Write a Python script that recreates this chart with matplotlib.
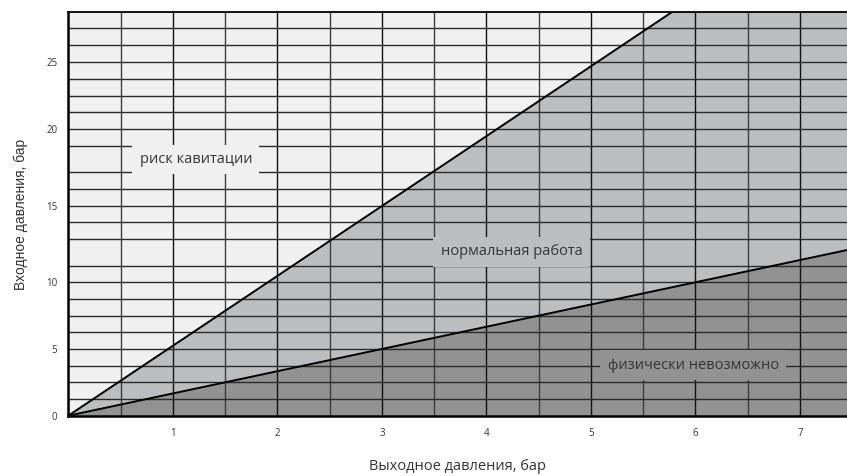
import matplotlib
matplotlib.use("Agg")
import matplotlib.pyplot as plt

# ---- data ----
x_out = [0.0, 7.45]                 # outlet pressure, bar
upper_in = [0.0, 36.9]              # cavitation boundary (inlet pressure)
lower_in = [0.0, 11.74]             # physical limit (inlet pressure)
x_max = 7.45
y_max = 28.59

x_ticks = [1, 2, 3, 4, 5, 6, 7]
x_grid = [0.5, 1, 1.5, 2, 2.5, 3, 3.5, 4, 4.5, 5, 5.5, 6, 6.5, 7]
y_tick_pos = [0, 4.73, 9.45, 14.88, 20.32, 25.09]
y_tick_labels = ["0", "5", "10", "15", "20", "25"]
y_grid = [1.18, 2.37, 3.54, 4.73, 5.91, 7.09, 8.27, 9.45, 10.63, 12.52,
          13.71, 14.88, 16.07, 17.25, 19.14, 20.32, 21.50, 22.68, 23.86,
          25.09, 26.27, 27.46]

region_labels = ["риск кавитации", "нормальная работа", "физически невозможно"]
region_x = [1.22, 4.24, 5.98]
region_y = [18.17, 11.62, 3.59]

c_light = "#f0f0f0"
c_mid = "#bbbdbe"
c_dark = "#929292"
region_bg = [c_light, c_mid, c_dark]

fig = plt.figure(figsize=(8.47, 4.76), dpi=100)
ax = fig.add_axes([68.3 / 847, 1 - 415.7 / 476, 1 - 68.3 / 847, (415.7 - 12.3) / 476])
ax.set_facecolor(c_light)

ax.fill_between(x_out, upper_in, 0, color=c_mid, zorder=1, lw=0)
ax.fill_between(x_out, lower_in, 0, color=c_dark, zorder=1.1, lw=0)

for gx in x_grid:
    col = "#111111" if float(gx).is_integer() else "#3c3c3c"
    ax.axvline(gx, color=col, lw=1.0, zorder=2)
for gy in y_grid:
    ax.axhline(gy, color="#2a2a2a", lw=1.0, zorder=2)

ax.plot(x_out, upper_in, color="black", lw=1.4, zorder=3)
ax.plot(x_out, lower_in, color="black", lw=1.4, zorder=3)

for txt, tx, ty, bg in zip(region_labels, region_x, region_y, region_bg):
    ax.text(tx, ty, txt, ha="center", va="center", fontsize=10.5,
            family="Open Sans", color="#353535", zorder=5,
            bbox=dict(boxstyle="square,pad=0.5", fc=bg, ec="none"))

ax.set_xlim(0, x_max)
ax.set_ylim(0, y_max)
ax.set_xticks(x_ticks)
ax.set_xticklabels([str(t) for t in x_ticks], fontsize=7, family="Open Sans", color="#333333")
ax.set_yticks(y_tick_pos)
ax.set_yticklabels(y_tick_labels, fontsize=7, family="Open Sans", color="#333333")
ax.tick_params(axis="both", length=0)
ax.tick_params(axis="x", pad=9)
ax.tick_params(axis="y", pad=8)

ax.spines["right"].set_visible(False)
ax.spines["left"].set_linewidth(1.8)
ax.spines["bottom"].set_linewidth(1.8)
ax.spines["top"].set_linewidth(1.3)
for s in ["left", "bottom", "top"]:
    ax.spines[s].set_zorder(6)

ax.set_xlabel("Выходное давления, бар", fontsize=10.5, family="Open Sans",
              color="#333333", labelpad=14)
ax.set_ylabel("Входное давления, бар", fontsize=10, family="Liberation Sans",
              color="#333333", labelpad=13)

fig.savefig("out.png", dpi=100)
